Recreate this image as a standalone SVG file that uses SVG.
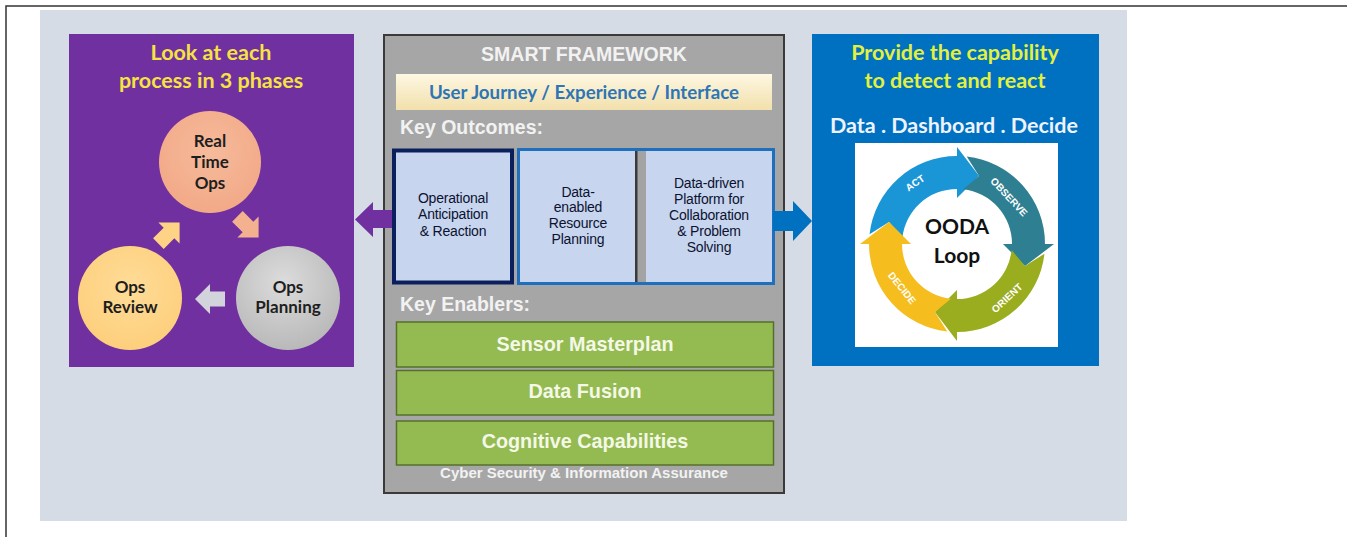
<svg xmlns="http://www.w3.org/2000/svg" width="1347" height="537" viewBox="0 0 1347 537">
<defs>
<style>
.ttl{font-family:Lato,"Open Sans",sans-serif;font-weight:bold;text-anchor:middle}
.cir{font-family:Lato,"Open Sans",sans-serif;font-weight:bold;font-size:17px;fill:#1e1e1e;text-anchor:middle}
.hdr{font-family:"Liberation Sans",Arial,sans-serif;font-weight:bold;fill:#f2f2f2}
.box{font-family:"Liberation Sans",Arial,sans-serif;font-size:14px;fill:#0c1230;text-anchor:middle;letter-spacing:-0.2px}
.grn{font-family:"Liberation Sans",Arial,sans-serif;font-weight:bold;font-size:19.8px;fill:#f4f8e6;text-anchor:middle}
.bar{fill:#94ba52;stroke:#55702a;stroke-width:1.5}
.lbl{font-family:"Liberation Sans",Arial,sans-serif;font-weight:bold;font-size:10px;fill:#ffffff;text-anchor:middle;dominant-baseline:central}
</style>
<linearGradient id="cream" x1="0" y1="0" x2="0" y2="1">
<stop offset="0" stop-color="#fdf7e2"/>
<stop offset="1" stop-color="#f2e0ac"/>
</linearGradient>
<radialGradient id="gSal" cx="0.5" cy="0.4" r="0.6">
<stop offset="0" stop-color="#f6bb9c"/>
<stop offset="1" stop-color="#f2a987"/>
</radialGradient>
<radialGradient id="gYel" cx="0.5" cy="0.4" r="0.6">
<stop offset="0" stop-color="#ffdc98"/>
<stop offset="1" stop-color="#fdcf7c"/>
</radialGradient>
<radialGradient id="gGry" cx="0.45" cy="0.35" r="0.65">
<stop offset="0" stop-color="#dcdcdc"/>
<stop offset="1" stop-color="#b9b9b9"/>
</radialGradient>
<path id="blk" d="M-15,-7.5 H0 V-15 L15,0 L0,15 V7.5 H-15 Z"/>
</defs>

<!-- page frame -->
<rect x="0" y="0" width="1347" height="537" fill="#ffffff"/>
<path d="M6,537 V6 H1347" fill="none" stroke="#333333" stroke-width="1.5"/>
<rect x="40" y="10" width="1087" height="511" fill="#d6dce5"/>

<!-- left purple panel -->
<g id="phases">
<rect x="69" y="34" width="285" height="333" fill="#7030a0"/>
<text class="ttl" x="211" y="60" font-size="21.5" fill="#f5e440">Look at each</text>
<text class="ttl" x="211" y="88" font-size="21.5" fill="#f5e440">process in 3 phases</text>
</g>
<g id="realtime">
<circle cx="210" cy="162" r="51" fill="url(#gSal)"/>
<text class="cir" x="210" y="147">Real</text>
<text class="cir" x="210" y="168">Time</text>
<text class="cir" x="210" y="189">Ops</text>
</g>
<g id="review">
<circle cx="130" cy="298" r="52" fill="url(#gYel)"/>
<text class="cir" x="130" y="293">Ops</text>
<text class="cir" x="130" y="313">Review</text>
</g>
<g id="planning">
<circle cx="288" cy="298" r="52" fill="url(#gGry)"/>
<text class="cir" x="288" y="293">Ops</text>
<text class="cir" x="288" y="313">Planning</text>
</g>

<!-- center framework -->
<g id="framework">
<rect x="384" y="35" width="400" height="458" fill="#a6a6a6" stroke="#3a3a3a" stroke-width="2"/>
<text class="hdr" x="584" y="61" font-size="19.5" text-anchor="middle">SMART FRAMEWORK</text>
<rect x="396" y="74" width="376" height="36" fill="url(#cream)"/>
<text class="ttl" x="584" y="99" font-size="18.7" fill="#2e75b6">User Journey / Experience / Interface</text>
<text class="hdr" x="400" y="134" font-size="19.5">Key Outcomes:</text>
<text class="hdr" x="400" y="311" font-size="19.5">Key Enablers:</text>
<text class="hdr" x="584" y="478" font-size="15" text-anchor="middle" fill="#eeeeee">Cyber Security &amp; Information Assurance</text>
</g>
<g id="outcome1">
<rect x="394" y="150.5" width="118" height="132" fill="#c7d6ee" stroke="#0b1f5c" stroke-width="4"/>
<text class="box" x="453" y="203">Operational</text>
<text class="box" x="453" y="219">Anticipation</text>
<text class="box" x="453" y="236">&amp; Reaction</text>
</g>
<g id="outcome2">
<rect x="518.5" y="149.5" width="255" height="134" fill="#c7d6ee" stroke="#1f6fbf" stroke-width="3"/>
<rect x="635" y="151" width="11" height="131" fill="#a3a3a3"/>
<rect x="635" y="151" width="2.5" height="131" fill="#3a3a3a"/>
<text class="box" x="578" y="197">Data-</text>
<text class="box" x="578" y="212">enabled</text>
<text class="box" x="578" y="228">Resource</text>
<text class="box" x="578" y="244">Planning</text>
</g>
<g id="outcome3">
<text class="box" x="709" y="188">Data-driven</text>
<text class="box" x="709" y="204">Platform for</text>
<text class="box" x="709" y="220">Collaboration</text>
<text class="box" x="709" y="236">&amp; Problem</text>
<text class="box" x="709" y="252">Solving</text>
</g>
<g id="sensor">
<rect class="bar" x="396.5" y="322" width="377" height="45"/>
<text class="grn" x="585" y="351">Sensor Masterplan</text>
</g>
<g id="fusion">
<rect class="bar" x="396.5" y="370.5" width="377" height="44.5"/>
<text class="grn" x="585" y="398">Data Fusion</text>
</g>
<g id="cognitive">
<rect class="bar" x="396.5" y="421" width="377" height="44"/>
<text class="grn" x="585" y="448">Cognitive Capabilities</text>
</g>

<!-- right blue panel -->
<g id="detect">
<rect x="812" y="34" width="287" height="332" fill="#0070c0"/>
<text class="ttl" x="955" y="60" font-size="21.5" fill="#e4f03e">Provide the capability</text>
<text class="ttl" x="955" y="88" font-size="21.5" fill="#e4f03e">to detect and react</text>
<text class="ttl" x="954" y="133" font-size="21.5" fill="#eef3ff">Data . Dashboard . Decide</text>
</g>
<g id="ooda">
<rect x="855" y="143" width="203" height="204" fill="#ffffff"/>
<path d="M869.54,234.27 A88,88 0 0 1 957,156 L957,147 L979.10,176.00 L957,198 L957,189 A55,55 0 0 0 902.34,237.92 L889.00,221.90 Z" fill="#1a96d6"/>
<path d="M966.73,156.54 A88,88 0 0 1 1045,244 L1054,244 L1025.00,266.10 L1003,244 L1012,244 A55,55 0 0 0 963.08,189.34 L979.10,176.00 Z" fill="#2e7f92"/>
<path d="M1044.46,253.73 A88,88 0 0 1 957,332 L957,341 L934.90,312.00 L957,290 L957,299 A55,55 0 0 0 1011.66,250.08 L1025.00,266.10 Z" fill="#9aad1f"/>
<path d="M947.27,331.46 A88,88 0 0 1 869,244 L860,244 L889.00,221.90 L911,244 L902,244 A55,55 0 0 0 950.92,298.66 L934.90,312.00 Z" fill="#f5bd1e"/>
<text class="lbl" transform="translate(915,183) rotate(-35)">ACT</text>
<text class="lbl" transform="translate(1009,197) rotate(47)">OBSERVE</text>
<text class="lbl" transform="translate(1007,298) rotate(-43)">ORIENT</text>
<text class="lbl" transform="translate(902,288) rotate(51)">DECIDE</text>
<text class="ttl" x="957" y="234" font-size="21" fill="#111111">OODA</text>
<text class="ttl" x="957" y="263" font-size="21" fill="#111111">Loop</text>
</g>

<!-- connectors -->
<g id="connectors">
<use href="#blk" transform="translate(248,227) rotate(45)" fill="#f4b18f"/>
<use href="#blk" transform="translate(210,299) rotate(180)" fill="#d2d3db"/>
<use href="#blk" transform="translate(169,233) rotate(-45)" fill="#fed386"/>
<path d="M392,210 H373 V202 L355,219.5 L373,237 V228 H392 Z" fill="#7030a0"/>
<path d="M773,211 H793 V201 L812,221 L793,241 V231 H773 Z" fill="#0070c0"/>
</g>
</svg>
